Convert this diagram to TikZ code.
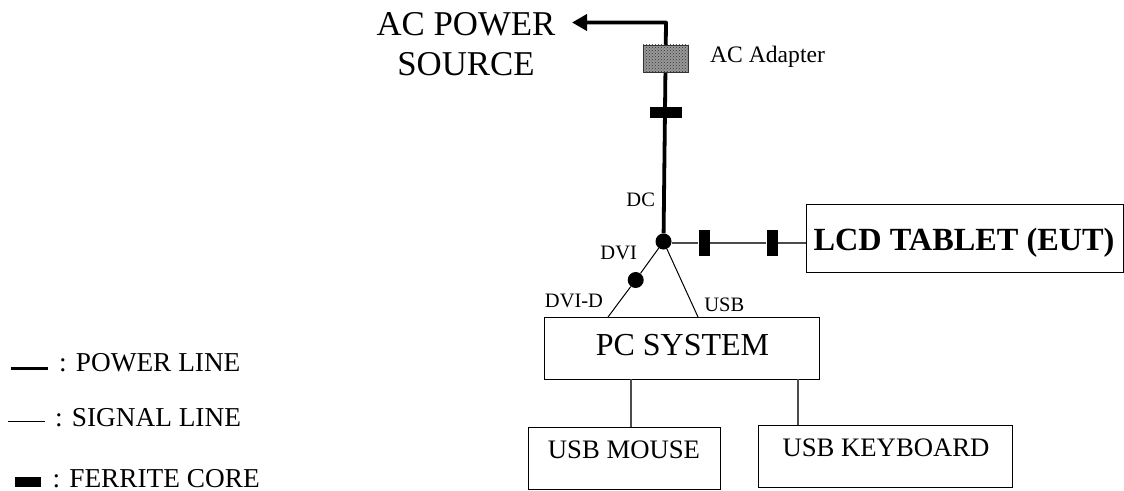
\documentclass[tikz,border=0pt]{standalone}
\usepackage{fontspec}
\setmainfont{Liberation Serif}
\usetikzlibrary{patterns,arrows.meta}
\tikzset{
  x=1pt,y=-1pt,
  boxnode/.style={draw=black,line width=1pt,fill=white,inner sep=0pt,anchor=north west},
  lab/.style={inner sep=0pt,text=black,anchor=base},
  labw/.style={inner sep=0pt,text=black,anchor=base west,font=\fontsize{27.3}{30}\selectfont},
  small/.style={lab,font=\fontsize{20.5}{24}\selectfont},
  powerline/.style={line width=3.8pt,black,line join=round},
  signalline/.style={line width=1.1pt,black!70},
  thinline/.style={line width=1pt,black},
  ferrite/.style={fill=black,draw=none,inner sep=0pt},
  junction/.style={circle,fill=black,inner sep=0pt,minimum size=16pt},
}
\begin{document}
\begin{tikzpicture}
\useasboundingbox (0,0) rectangle (1124,490);
\node[boxnode,minimum width=316.5pt,minimum height=68pt] (tablet) at (806,204) {};
\node[lab,font=\bfseries\fontsize{32.3}{36}\selectfont] (tablettext) at (964,250) {LCD TABLET (EUT)};
\node[boxnode,minimum width=275pt,minimum height=62pt] (pc) at (544,317) {};
\node[lab,font=\fontsize{32}{36}\selectfont] (pctext) at (682.5,355) {PC SYSTEM};
\node[boxnode,minimum width=192pt,minimum height=62pt] (mouse) at (528,427) {};
\node[lab,font=\fontsize{26.7}{30}\selectfont] (mousetext) at (624,458.5) {USB MOUSE};
\node[boxnode,minimum width=254pt,minimum height=62pt] (keyboard) at (758,425) {};
\node[lab,font=\fontsize{26.7}{30}\selectfont] (keyboardtext) at (886,456.7) {USB KEYBOARD};
\node[junction] (j) at (663.5,241.5) {};
\node[junction] (d) at (635.7,280) {};
\coordinate (corner) at (666,22.5);
\coordinate (tip) at (572,22.5);
\coordinate (dvidend) at (608,317);
\coordinate (usbend) at (698,317);
\coordinate (mousetop) at (631,379);
\coordinate (kbtop) at (798,379);
\node[ferrite,minimum width=11pt,minimum height=26pt] (f1) at (704,243) {};
\node[ferrite,minimum width=11pt,minimum height=26pt] (f2) at (772,243) {};
\node[ferrite,minimum width=32pt,minimum height=11pt] (f3) at (666,112) {};
\draw[signalline] (f1 -| j.east) -- (f1) -- (f2) -- (f2 -| tablet.west);
\draw[thinline] (j) -- (d);
\draw[thinline] (d) -- (dvidend);
\draw[thinline] (j) -- (usbend);
\draw[signalline] (mousetop) -- (mousetop |- mouse.north);
\draw[signalline] (kbtop) -- (kbtop |- keyboard.north);
\draw[powerline,-{Triangle[length=15pt,width=16pt]}] (j) -- (corner) -- (tip);
\node[draw=black!80,line width=.8pt,fill=black!40,minimum width=45pt,minimum height=27pt,inner sep=0pt] (adapter) at (665.5,58.5) {};
\fill[pattern=crosshatch dots,pattern color=black!80] (adapter.south west) rectangle (adapter.north east);
\node[inner sep=0pt,text=black,align=center,font=\fontsize{34.8}{40}\selectfont] (source) at (466,44.5) {AC POWER\\SOURCE};
\node[labw,font=\fontsize{23.6}{28}\selectfont] (adaptertext) at (710,62.5) {AC Adapter};
\node[small] (dc) at (640.7,206.7) {DC};
\node[small] (dvi) at (618.7,259) {DVI};
\node[small] (dvid) at (574,307.3) {DVI-D};
\node[small] (usb) at (724.3,311) {USB};
\coordinate (p1) at (10.7,368.3); \coordinate (p2) at (47.7,368.3);
\draw[line width=3.3pt,black] (p1) -- (p2);
\node[labw] (ptext) at (59,371.7) {: POWER LINE};
\coordinate (s1) at (8,421); \coordinate (s2) at (45,421);
\draw[thinline] (s1) -- (s2);
\node[labw] (stext) at (55,426.7) {: SIGNAL LINE};
\node[ferrite,minimum width=26pt,minimum height=10.5pt] (lf) at (27.7,482) {};
\node[labw] (ftext) at (52.5,487.2) {: FERRITE CORE};
\end{tikzpicture}
\end{document}
